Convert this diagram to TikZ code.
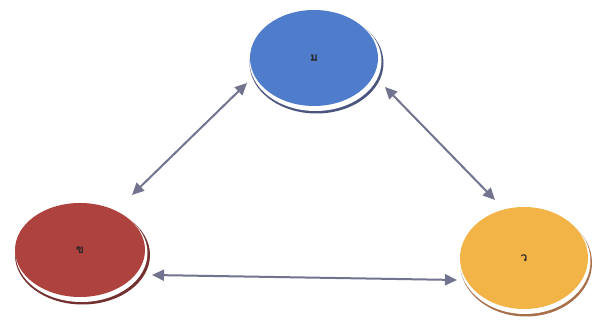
\documentclass[tikz,border=0pt]{standalone}
\usepackage{fontspec}
\newfontfamily\thaifont[Script=Thai]{Loma}
\usetikzlibrary{shapes.geometric,arrows.meta,calc}
\definecolor{cblue}{HTML}{4F7DCB}
\definecolor{sblue}{HTML}{4A5680}
\definecolor{cred}{HTML}{AE423E}
\definecolor{sred}{HTML}{74302E}
\definecolor{corange}{HTML}{F2B446}
\definecolor{sorange}{HTML}{A8704A}
\definecolor{arrcol}{HTML}{72748F}
\tikzset{
  disc/.style={ellipse, inner sep=0pt, font=\thaifont\bfseries\large, text=black!85},
  arr/.style={draw=arrcol, line width=2pt, {Triangle[length=12pt,width=11pt]}-{Triangle[length=12pt,width=11pt]}}
}
\begin{document}
\begin{tikzpicture}[x=1pt,y=1pt]
\fill[white] (0,0) rectangle (592,331);
\useasboundingbox (0,0) rectangle (592,331);
\coordinate (cb) at (314,273);
\coordinate (cr) at (80,81);
\coordinate (co) at (524,73);
% shadows
\fill[sblue] ($(cb)+(2.5,-5)$) ellipse [x radius=67, y radius=50.5];
\fill[white] ($(cb)+(1.5,-3)$) ellipse [x radius=66, y radius=50];
\fill[sred] ($(cr)+(2.5,-5)$) ellipse [x radius=67.5, y radius=49.5];
\fill[white] ($(cr)+(1.5,-3)$) ellipse [x radius=66, y radius=49];
\fill[sorange] ($(co)+(2,-5)$) ellipse [x radius=66, y radius=53.5];
\fill[white] ($(co)+(1,-3)$) ellipse [x radius=65.5, y radius=53];
% discs
\node[disc, fill=cblue, minimum width=128pt, minimum height=96pt] (blue) at (cb) {ม};
\node[disc, fill=cred, minimum width=130pt, minimum height=94pt] (red) at (cr) {ข};
\node[disc, fill=corange, minimum width=128pt, minimum height=102pt] (orange) at (co) {ว};
% connectors
\draw[arr] ($(red)+(52,55)$) -- ($(blue)+(-67,-25)$);
\draw[arr] ($(blue)+(71,-29)$) -- ($(orange)+(-29,58)$);
\draw[arr] ($(red)+(72,-25)$) -- ($(orange)+(-67,-22)$);
\end{tikzpicture}
\end{document}
